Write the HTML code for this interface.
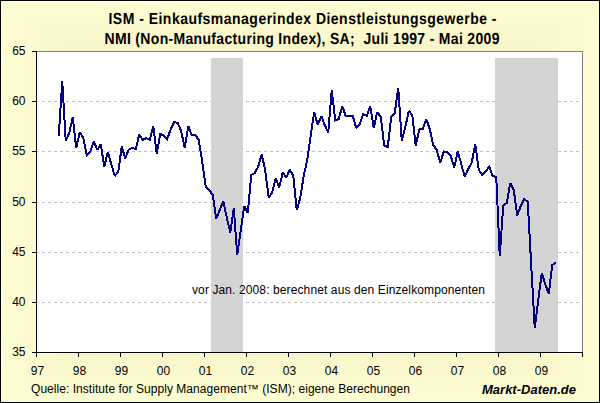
<!DOCTYPE html>
<html><head><meta charset="utf-8"><style>
html,body{margin:0;padding:0;background:#fff;}
svg{display:block;}
text{font-family:"Liberation Sans",sans-serif;fill:#000;}
.lab{font-size:12px;}
.title{font-size:14px;font-weight:bold;text-rendering:geometricPrecision;}
</style></head><body>
<svg width="600" height="403" viewBox="0 0 600 403">
<rect x="0" y="0" width="600" height="403" fill="#000"/>
<rect x="1.0" y="1.0" width="598.0" height="401.0" fill="rgb(255, 253, 210)"/>
<rect x="6.0" y="4.3" width="588.1" height="394.3" fill="rgb(254, 252, 209)"/>
<rect x="10.9" y="7.7" width="578.1" height="387.7" fill="rgb(254, 252, 209)"/>
<rect x="15.9" y="11.0" width="568.2" height="381.0" fill="rgb(253, 251, 208)"/>
<rect x="20.9" y="14.3" width="558.3" height="374.4" fill="rgb(253, 251, 208)"/>
<rect x="25.8" y="17.7" width="548.3" height="367.7" fill="rgb(252, 250, 207)"/>
<rect x="30.8" y="21.0" width="538.4" height="361.0" fill="rgb(252, 250, 206)"/>
<rect x="35.8" y="24.3" width="528.5" height="354.4" fill="rgb(251, 249, 206)"/>
<rect x="40.7" y="27.6" width="518.5" height="347.7" fill="rgb(251, 249, 205)"/>
<rect x="45.7" y="31.0" width="508.6" height="341.1" fill="rgb(250, 248, 205)"/>
<rect x="50.7" y="34.3" width="498.7" height="334.4" fill="rgb(250, 248, 204)"/>
<rect x="55.6" y="37.6" width="488.7" height="327.7" fill="rgb(249, 247, 203)"/>
<rect x="60.6" y="41.0" width="478.8" height="321.1" fill="rgb(249, 247, 203)"/>
<rect x="65.6" y="44.3" width="468.9" height="314.4" fill="rgb(248, 246, 202)"/>
<rect x="70.5" y="47.6" width="458.9" height="307.8" fill="rgb(248, 246, 202)"/>
<rect x="75.5" y="51.0" width="449.0" height="301.1" fill="rgb(247, 245, 201)"/>
<rect x="80.5" y="54.3" width="439.1" height="294.4" fill="rgb(247, 245, 201)"/>
<rect x="85.4" y="57.6" width="429.1" height="287.8" fill="rgb(246, 244, 200)"/>
<rect x="90.4" y="60.9" width="419.2" height="281.1" fill="rgb(246, 244, 199)"/>
<rect x="95.4" y="64.3" width="409.3" height="274.4" fill="rgb(245, 243, 199)"/>
<rect x="100.3" y="67.6" width="399.3" height="267.8" fill="rgb(245, 243, 198)"/>
<rect x="105.3" y="70.9" width="389.4" height="261.1" fill="rgb(244, 242, 198)"/>
<rect x="110.3" y="74.3" width="379.5" height="254.5" fill="rgb(244, 242, 197)"/>
<rect x="115.2" y="77.6" width="369.5" height="247.8" fill="rgb(243, 241, 196)"/>
<rect x="120.2" y="80.9" width="359.6" height="241.1" fill="rgb(243, 241, 196)"/>
<rect x="125.2" y="84.3" width="349.7" height="234.5" fill="rgb(242, 240, 195)"/>
<rect x="130.1" y="87.6" width="339.7" height="227.8" fill="rgb(242, 240, 195)"/>
<rect x="135.1" y="90.9" width="329.8" height="221.2" fill="rgb(241, 239, 194)"/>
<rect x="140.1" y="94.2" width="319.9" height="214.5" fill="rgb(241, 239, 193)"/>
<rect x="145.0" y="97.6" width="309.9" height="207.8" fill="rgb(240, 238, 193)"/>
<rect x="150.0" y="100.9" width="300.0" height="201.2" fill="rgb(240, 238, 192)"/>
<rect x="155.0" y="104.2" width="290.1" height="194.5" fill="rgb(239, 237, 192)"/>
<rect x="159.9" y="107.6" width="280.1" height="187.9" fill="rgb(239, 237, 191)"/>
<rect x="164.9" y="110.9" width="270.2" height="181.2" fill="rgb(238, 236, 190)"/>
<rect x="169.9" y="114.2" width="260.3" height="174.5" fill="rgb(238, 236, 190)"/>
<rect x="174.8" y="117.6" width="250.3" height="167.9" fill="rgb(237, 235, 189)"/>
<rect x="179.8" y="120.9" width="240.4" height="161.2" fill="rgb(237, 235, 189)"/>
<rect x="184.8" y="124.2" width="230.5" height="154.6" fill="rgb(236, 234, 188)"/>
<rect x="189.7" y="127.6" width="220.6" height="147.9" fill="rgb(236, 234, 187)"/>
<rect x="194.7" y="130.9" width="210.6" height="141.2" fill="rgb(235, 233, 187)"/>
<rect x="199.7" y="134.2" width="200.7" height="134.6" fill="rgb(235, 233, 186)"/>
<rect x="204.6" y="137.5" width="190.8" height="127.9" fill="rgb(234, 232, 186)"/>
<rect x="209.6" y="140.9" width="180.8" height="121.3" fill="rgb(234, 232, 185)"/>
<rect x="214.6" y="144.2" width="170.9" height="114.6" fill="rgb(233, 231, 184)"/>
<rect x="219.5" y="147.5" width="161.0" height="107.9" fill="rgb(233, 231, 184)"/>
<rect x="224.5" y="150.9" width="151.0" height="101.3" fill="rgb(232, 230, 183)"/>
<rect x="229.5" y="154.2" width="141.1" height="94.6" fill="rgb(232, 230, 183)"/>
<rect x="234.4" y="157.5" width="131.2" height="87.9" fill="rgb(231, 229, 182)"/>
<rect x="239.4" y="160.9" width="121.2" height="81.3" fill="rgb(231, 229, 182)"/>
<rect x="244.4" y="164.2" width="111.3" height="74.6" fill="rgb(230, 228, 181)"/>
<rect x="249.3" y="167.5" width="101.4" height="68.0" fill="rgb(230, 228, 180)"/>
<rect x="254.3" y="170.8" width="91.4" height="61.3" fill="rgb(229, 227, 180)"/>
<rect x="259.3" y="174.2" width="81.5" height="54.6" fill="rgb(229, 227, 179)"/>
<rect x="264.2" y="177.5" width="71.6" height="48.0" fill="rgb(228, 226, 179)"/>
<rect x="269.2" y="180.8" width="61.6" height="41.3" fill="rgb(228, 226, 178)"/>
<rect x="274.2" y="184.2" width="51.7" height="34.7" fill="rgb(227, 225, 177)"/>
<rect x="279.1" y="187.5" width="41.8" height="28.0" fill="rgb(227, 225, 177)"/>
<rect x="284.1" y="190.8" width="31.8" height="21.3" fill="rgb(226, 224, 176)"/>
<rect x="289.1" y="194.2" width="21.9" height="14.7" fill="rgb(226, 224, 176)"/>
<rect x="294.0" y="197.5" width="12.0" height="8.0" fill="rgb(225, 223, 175)"/>
<rect x="36" y="51" width="546" height="301" fill="#fff"/>
<line x1="37" y1="101.5" x2="582" y2="101.5" stroke="#C0C0C0" stroke-width="1" stroke-dasharray="3,3" stroke-dashoffset="-5"/>
<line x1="37" y1="151.5" x2="582" y2="151.5" stroke="#C0C0C0" stroke-width="1" stroke-dasharray="3,3" stroke-dashoffset="-5"/>
<line x1="37" y1="202.5" x2="582" y2="202.5" stroke="#C0C0C0" stroke-width="1" stroke-dasharray="3,3" stroke-dashoffset="-5"/>
<line x1="37" y1="252.5" x2="582" y2="252.5" stroke="#C0C0C0" stroke-width="1" stroke-dasharray="3,3" stroke-dashoffset="-5"/>
<line x1="37" y1="302.5" x2="582" y2="302.5" stroke="#C0C0C0" stroke-width="1" stroke-dasharray="3,3" stroke-dashoffset="-5"/>

<rect x="211" y="58" width="32" height="294" fill="#D4D4D4"/>
<rect x="495" y="58" width="63" height="294" fill="#D4D4D4"/>
<text x="192" y="294" class="lab" textLength="293" lengthAdjust="spacing">vor Jan. 2008: berechnet aus den Einzelkomponenten</text>
<rect x="37" y="51" width="546" height="1" fill="#808080"/>
<rect x="582" y="51" width="1" height="301" fill="#808080"/>
<polyline points="58.75,136.0 62.25,81.0 65.75,141.0 69.25,133.0 72.75,117.0 76.25,148.0 79.75,132.0 83.25,138.0 86.75,155.0 90.25,152.0 93.75,141.0 97.25,150.0 100.75,144.0 104.25,167.0 107.75,152.0 111.25,164.0 114.75,176.0 118.25,172.0 121.75,146.5 125.25,158.5 128.75,149.5 132.25,148.0 135.75,149.0 139.25,134.5 142.75,140.0 146.25,138.0 149.75,140.0 153.25,126.0 156.75,153.5 160.25,134.0 163.75,135.5 167.25,139.0 170.75,129.0 174.25,122.0 177.75,123.0 181.25,131.5 184.75,148.0 188.25,126.0 191.75,135.0 195.25,135.0 198.75,140.0 202.25,162.0 205.75,186.5 209.25,190.0 212.75,195.0 216.25,219.0 219.75,210.0 223.25,201.0 226.75,217.5 230.25,232.5 233.75,208.0 237.25,255.0 240.75,230.0 244.25,206.0 247.75,213.0 251.25,175.0 254.75,173.0 258.25,166.5 261.75,154.0 265.25,171.0 268.75,198.0 272.25,192.0 275.75,178.5 279.25,187.5 282.75,172.5 286.25,177.7 289.75,169.5 293.25,175.5 296.75,210.0 300.25,198.0 303.75,175.5 307.25,160.0 310.75,135.0 314.25,112.0 317.75,125.0 321.25,116.0 324.75,125.0 328.25,132.5 331.75,90.0 335.25,120.5 338.75,119.0 342.25,106.0 345.75,116.0 349.25,116.0 352.75,116.0 356.25,128.0 359.75,124.0 363.25,114.0 366.75,116.0 370.25,106.0 373.75,128.0 377.25,112.0 380.75,117.0 384.25,145.5 387.75,147.0 391.25,117.0 394.75,113.0 398.25,88.0 401.75,140.5 405.25,127.5 408.75,111.0 412.25,115.0 415.75,145.5 419.25,129.5 422.75,129.0 426.25,119.0 429.75,129.0 433.25,145.0 436.75,150.0 440.25,163.0 443.75,151.5 447.25,152.0 450.75,156.0 454.25,167.5 457.75,151.5 461.25,164.0 464.75,177.0 468.25,169.0 471.75,162.5 475.25,144.0 478.75,170.0 482.25,175.0 485.75,171.0 489.25,167.0 492.75,176.0 496.25,177.0 499.75,256.0 503.25,205.5 506.75,203.0 510.25,183.0 513.75,190.0 517.25,215.5 520.75,206.0 524.25,199.0 527.75,202.0 531.25,266.0 534.75,328.0 538.25,300.0 541.75,273.0 545.25,284.0 548.75,294.0 552.25,265.0 555.75,262.5" fill="none" stroke="#000080" stroke-width="2" stroke-linejoin="miter" stroke-miterlimit="2" shape-rendering="crispEdges"/>
<rect x="36" y="51" width="1" height="306" fill="#000"/>
<rect x="32" y="352" width="551" height="1" fill="#000"/>
<rect x="32" y="51" width="4" height="1" fill="#000"/>
<text x="25.5" y="54.5" text-anchor="end" class="lab">65</text>
<rect x="32" y="101" width="4" height="1" fill="#000"/>
<text x="25.5" y="104.5" text-anchor="end" class="lab">60</text>
<rect x="32" y="151" width="4" height="1" fill="#000"/>
<text x="25.5" y="154.5" text-anchor="end" class="lab">55</text>
<rect x="32" y="202" width="4" height="1" fill="#000"/>
<text x="25.5" y="205.5" text-anchor="end" class="lab">50</text>
<rect x="32" y="252" width="4" height="1" fill="#000"/>
<text x="25.5" y="255.5" text-anchor="end" class="lab">45</text>
<rect x="32" y="302" width="4" height="1" fill="#000"/>
<text x="25.5" y="305.5" text-anchor="end" class="lab">40</text>
<rect x="32" y="352" width="4" height="1" fill="#000"/>
<text x="25.5" y="355.5" text-anchor="end" class="lab">35</text>

<rect x="36" y="352" width="1" height="5" fill="#000"/>
<text x="37.5" y="375" text-anchor="middle" class="lab">97</text>
<rect x="78" y="352" width="1" height="5" fill="#000"/>
<text x="79.5" y="375" text-anchor="middle" class="lab">98</text>
<rect x="120" y="352" width="1" height="5" fill="#000"/>
<text x="121.5" y="375" text-anchor="middle" class="lab">99</text>
<rect x="162" y="352" width="1" height="5" fill="#000"/>
<text x="163.5" y="375" text-anchor="middle" class="lab">00</text>
<rect x="204" y="352" width="1" height="5" fill="#000"/>
<text x="205.5" y="375" text-anchor="middle" class="lab">01</text>
<rect x="246" y="352" width="1" height="5" fill="#000"/>
<text x="247.5" y="375" text-anchor="middle" class="lab">02</text>
<rect x="288" y="352" width="1" height="5" fill="#000"/>
<text x="289.5" y="375" text-anchor="middle" class="lab">03</text>
<rect x="330" y="352" width="1" height="5" fill="#000"/>
<text x="331.5" y="375" text-anchor="middle" class="lab">04</text>
<rect x="372" y="352" width="1" height="5" fill="#000"/>
<text x="373.5" y="375" text-anchor="middle" class="lab">05</text>
<rect x="414" y="352" width="1" height="5" fill="#000"/>
<text x="415.5" y="375" text-anchor="middle" class="lab">06</text>
<rect x="456" y="352" width="1" height="5" fill="#000"/>
<text x="457.5" y="375" text-anchor="middle" class="lab">07</text>
<rect x="498" y="352" width="1" height="5" fill="#000"/>
<text x="499.5" y="375" text-anchor="middle" class="lab">08</text>
<rect x="540" y="352" width="1" height="5" fill="#000"/>
<text x="541.5" y="375" text-anchor="middle" class="lab">09</text>
<rect x="582" y="352" width="1" height="5" fill="#000"/>

<text x="108.5" y="0" transform="translate(0,24) scale(1,1.14)" class="title" textLength="388" lengthAdjust="spacing">ISM - Einkaufsmanagerindex Dienstleistungsgewerbe -</text>
<text x="104.5" y="0" transform="translate(0,44) scale(1,1.14)" class="title" textLength="395" lengthAdjust="spacing">NMI (Non-Manufacturing Index), SA;&#160; Juli 1997 - Mai 2009</text>
<text x="31" y="393" class="lab" textLength="379" lengthAdjust="spacing">Quelle: Institute for Supply Management™ (ISM); eigene Berechungen</text>
<text x="482" y="393.5" style="font-size:13px;font-weight:bold;font-style:italic" textLength="94" lengthAdjust="spacing">Markt-Daten.de</text>
</svg>
</body></html>
